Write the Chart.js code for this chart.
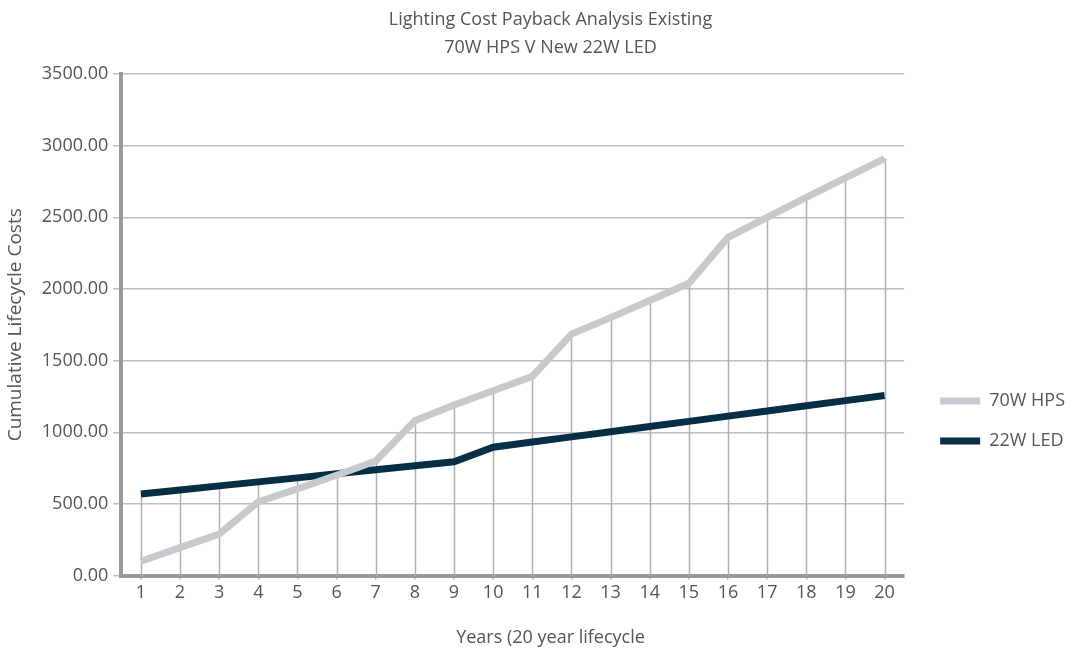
<!DOCTYPE html>
<html>
<head>
<meta charset="utf-8">
<style>
  html, body { margin: 0; padding: 0; background: #ffffff; }
  #wrap { width: 1070px; height: 648px; }
</style>
<script src="https://cdn.jsdelivr.net/npm/chart.js@4/dist/chart.umd.min.js"></script>
</head>
<body>
<div id="wrap"><canvas id="chart" width="1070" height="648"></canvas></div>
<script>
// Years of the lifecycle
const years = ['1','2','3','4','5','6','7','8','9','10','11','12','13','14','15','16','17','18','19','20'];

// Cumulative lifecycle cost per year
const hpsCosts = [100, 195, 290, 515, 605, 700, 800, 1080, 1190, 1290, 1390, 1685, 1800, 1920, 2040, 2360, 2500, 2640, 2775, 2910];
const ledCosts = [570, 598, 626, 654, 682, 710, 738, 766, 794, 896, 932, 968, 1004, 1040, 1076, 1113, 1149, 1185, 1221, 1257];

const seriesNames = ['70W HPS', '22W LED'];
const titleLines = ['Lighting Cost Payback Analysis Existing', '70W HPS V New 22W LED'];
const xTitle = 'Years (20 year lifecycle';
const yTitle = 'Cumulative Lifecycle Costs';

const FONT = "'Open Sans', 'Noto Sans', sans-serif";
const TEXT = '#555555';

// Vertical drop lines from the higher of the two series down to the x axis
const dropLines = {
  id: 'dropLines',
  beforeDatasetsDraw(chart) {
    const { ctx, scales: { x, y } } = chart;
    ctx.save();
    ctx.strokeStyle = '#b0b0b0';
    ctx.lineWidth = 1.5;
    years.forEach((_, i) => {
      const top = Math.max(hpsCosts[i], ledCosts[i]);
      const px = Math.round(x.getPixelForValue(i)) + 0.5;
      ctx.beginPath();
      ctx.moveTo(px, y.getPixelForValue(0));
      ctx.lineTo(px, y.getPixelForValue(top));
      ctx.stroke();
    });
    ctx.restore();
  }
};

// Re-position the title blocks and the legend after layout
const boxShift = {
  id: 'boxShift',
  afterLayout(chart) {
    chart.boxes.forEach(b => {
      if (b.options && b.options.text !== undefined && b.options.display) {
        b.left += 18;
        b.right += 18;
      }
    });
    const lg = chart.legend;
    if (lg) {
      lg.left += 14; lg.right += 14;
      lg.top += 94; lg.bottom += 94;
    }
  }
};

new Chart(document.getElementById('chart'), {
  type: 'line',
  data: {
    labels: years,
    datasets: [
      {
        label: seriesNames[0],
        data: hpsCosts,
        borderColor: '#c6cacf',
        backgroundColor: '#c6cacf',
        borderWidth: 7,
        pointRadius: 0,
        tension: 0
      },
      {
        label: seriesNames[1],
        data: ledCosts,
        borderColor: '#062f45',
        backgroundColor: '#062f45',
        borderWidth: 7,
        pointRadius: 0,
        tension: 0
      }
    ]
  },
  options: {
    responsive: false,
    animation: false,
    devicePixelRatio: 1,
    layout: { padding: { left: 4, right: 9, top: 6, bottom: 0 } },
    plugins: {
      title: {
        display: true,
        text: titleLines,
        color: TEXT,
        font: { family: FONT, size: 18, weight: 'normal', lineHeight: 1.556 },
        padding: { top: 0, bottom: 12 }
      },
      subtitle: {
        display: true,
        position: 'bottom',
        text: xTitle,
        color: TEXT,
        font: { family: FONT, size: 18, weight: 'normal', lineHeight: 1.1 },
        padding: { top: 23, bottom: 0 }
      },
      legend: {
        position: 'right',
        labels: {
          boxWidth: 40,
          boxHeight: 7,
          padding: 22,
          color: TEXT,
          font: { family: FONT, size: 18, lineHeight: 1 },
          generateLabels(chart) {
            return Chart.defaults.plugins.legend.labels.generateLabels(chart)
              .map(item => Object.assign(item, { lineWidth: 0 }));
          }
        }
      },
      tooltip: { enabled: false }
    },
    scales: {
      x: {
        offset: true,
        grid: {
          offset: false,
          drawOnChartArea: false,
          drawTicks: true,
          tickLength: 4,
          color: '#b0b0b0',
          lineWidth: 1.5
        },
        border: { display: true, color: '#9a9a9a', width: 4 },
        ticks: {
          color: TEXT,
          font: { family: FONT, size: 18 },
          padding: 2,
          maxRotation: 0,
          autoSkip: false
        }
      },
      y: {
        min: 0,
        max: 3500,
        grid: {
          color: '#bdbdbd',
          lineWidth: 1.5,
          tickLength: 8
        },
        border: { display: true, color: '#9a9a9a', width: 4 },
        ticks: {
          stepSize: 500,
          color: TEXT,
          font: { family: FONT, size: 18 },
          padding: 5,
          callback: v => Number(v).toFixed(2)
        },
        title: {
          display: true,
          text: yTitle,
          color: TEXT,
          font: { family: FONT, size: 19 },
          padding: { top: 0, bottom: 10 }
        }
      }
    }
  },
  plugins: [dropLines, boxShift]
});
</script>
</body>
</html>
